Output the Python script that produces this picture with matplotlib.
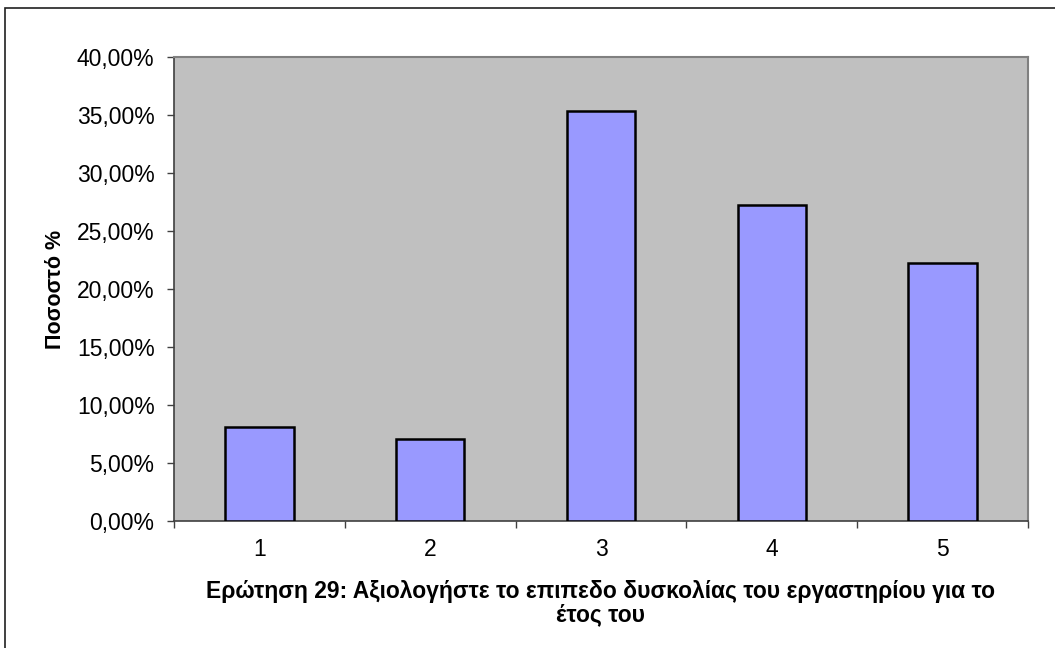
import numpy as np
import matplotlib.pyplot as plt
from matplotlib.patches import Rectangle
from matplotlib.ticker import FuncFormatter, MultipleLocator

plt.rcParams['font.family'] = ['Liberation Sans', 'DejaVu Sans']

# answers 1..5, share of respondents (8, 7, 35, 27, 22 out of 99)
categories = ['1', '2', '3', '4', '5']
percent = [8.08, 7.07, 35.35, 27.27, 22.22]

W, H = 1055, 648
fig = plt.figure(figsize=(W / 100, H / 100), dpi=100)

# outer chart frame
fig.patches.append(Rectangle((5 / W, -0.1), 1.2, 1 - 8 / H + 0.1,
                             transform=fig.transFigure, fill=False,
                             edgecolor='#202020', linewidth=1.2))

ax = fig.add_axes([174 / W, 1 - 521 / H, (1028 - 174) / W, (521 - 57) / H])
ax.set_facecolor('#c0c0c0')

x = np.arange(len(categories))
ax.bar(x, percent, width=0.4, color='#9999ff', edgecolor='black', linewidth=1.8, zorder=3)

ax.set_xlim(-0.5, len(categories) - 0.5)
ax.set_ylim(0, 40)
ax.yaxis.set_major_locator(MultipleLocator(5))
ax.yaxis.set_major_formatter(FuncFormatter(lambda v, p: f'{v:.2f}'.replace('.', ',') + '%'))

ax.set_xticks(x)
ax.set_xticklabels(categories)
ax.set_xticks(np.arange(-0.5, len(categories)), minor=True)
ax.tick_params(axis='x', which='major', length=0, pad=12, labelsize=16.5)
ax.tick_params(axis='x', which='minor', length=5, width=1, color='#404040', direction='out')
ax.tick_params(axis='y', length=5, width=1, color='#404040', direction='out', pad=9, labelsize=16.5)

for side in ['top', 'right']:
    ax.spines[side].set_color('#808080')
    ax.spines[side].set_linewidth(1.5)
for side in ['left', 'bottom']:
    ax.spines[side].set_color('#404040')
    ax.spines[side].set_linewidth(1.2)

ax.set_ylabel('Ποσοστό %', fontsize=15.5, fontweight='bold', labelpad=8)
ax.set_xlabel('Ερώτηση 29: Αξιολογήστε το επιπεδο δυσκολίας του εργαστηρίου για το\nέτος του',
              fontsize=16.5, fontweight='bold', labelpad=14, linespacing=1.0)

fig.savefig('out.png', dpi=100)
